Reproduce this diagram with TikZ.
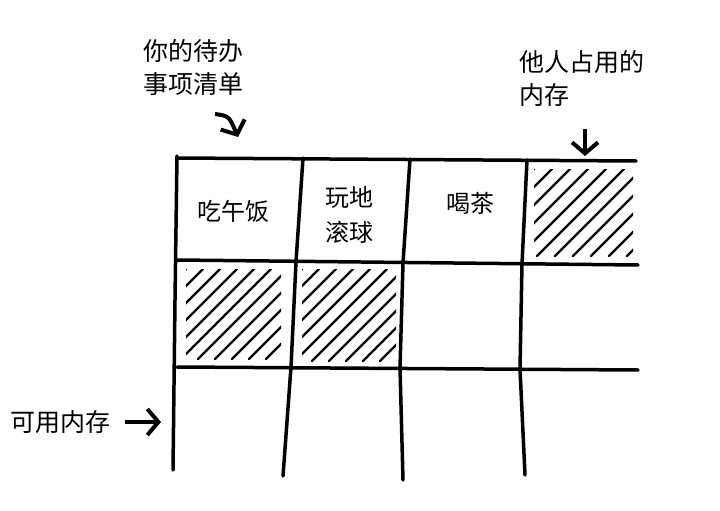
\documentclass[tikz,border=0pt]{standalone}
\usepackage{fontspec}
\newfontfamily\cjk{Noto Sans CJK SC}
\usetikzlibrary{arrows.meta}

\tikzset{
  gridline/.style={line width=3.5pt, line cap=round, line join=round},
  hatchline/.style={line width=2.4pt, line cap=round},
  pointer/.style={line width=4pt, -{Straight Barb[length=11pt,width=26pt,line width=4pt]}},
  note/.style={font=\cjk\fontsize{25}{33}\selectfont, inner sep=0pt},
  cell/.style={font=\cjk\fontsize{24}{35}\selectfont, align=center, inner sep=0pt}
}

\begin{document}
\begin{tikzpicture}[x=1pt, y=-1pt]
    \useasboundingbox (0,0) rectangle (720,511);

    % grid
    \draw[gridline] (177,158) -- (636,161);
    \draw[gridline] (177,260) -- (638,265);
    \draw[gridline] (177,367) -- (638,370);
    \draw[gridline] (177,156) -- (175,300) -- (173,470);
    \draw[gridline] (303,158) -- (296,262) -- (291,367) -- (283,476);
    \draw[gridline] (410,159) -- (403,263) -- (400,368) -- (403,480);
    \draw[gridline] (527,160) -- (522,264) -- (520,369) -- (525,475);

    % memory used by others
    \begin{scope}
        \clip (534,169) rectangle (633,256);
        \foreach \d in {0,18,...,216}
            \draw[hatchline] ({534+\d},169) -- ({534+\d-87},256);
    \end{scope}
    \begin{scope}
        \clip (186,269) rectangle (281,359);
        \foreach \d in {0,17,...,204}
            \draw[hatchline] ({186+\d},269) -- ({186+\d-90},359);
    \end{scope}
    \begin{scope}
        \clip (302,269) rectangle (396,361);
        \foreach \d in {0,17,...,204}
            \draw[hatchline] ({302+\d},269) -- ({302+\d-92},361);
    \end{scope}

    % tasks
    \node[cell] (lunch) at (233,211) {吃午饭};
    \node[cell] (golf) at (349,215) {玩地\\滚球};
    \node[cell] (tea) at (470,203) {喝茶};

    % notes
    \node[note, align=center] (todo) at (193,67) {你的待办\\事项清单};
    \node[note, align=left, anchor=west] (others) at (519,78) {他人占用的\\内存};
    \node[note, anchor=east] (free) at (111,422) {可用内存};

    \coordinate (todostart) at (215,114);
    \coordinate (todotip) at (238,137);
    \coordinate (otherstart) at (585,129);
    \coordinate (othertip) at (585,156);
    \coordinate (freetip) at (161,422);

    \draw[pointer] (todostart) .. controls (229,116) .. (todotip);
    \draw[pointer] (otherstart) -- (othertip);
    \draw[pointer] ([xshift=14pt]free.east) -- (freetip);
\end{tikzpicture}
\end{document}
